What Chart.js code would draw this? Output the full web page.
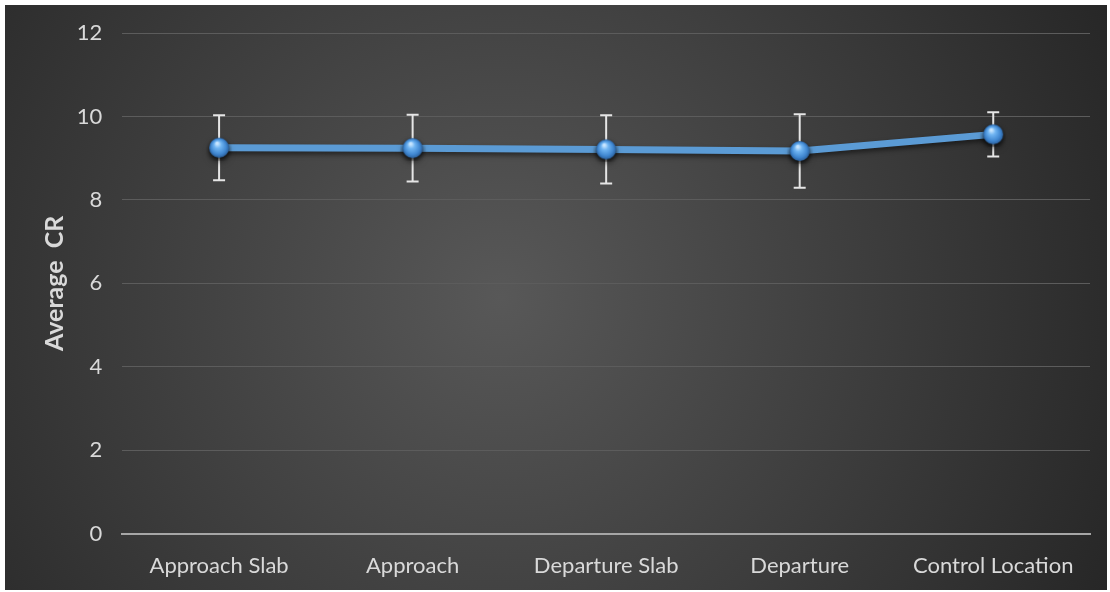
<!DOCTYPE html>
<html>
<head>
<meta charset="utf-8">
<script src="https://cdn.jsdelivr.net/npm/chart.js@4/dist/chart.umd.min.js"></script>
<style>
  html, body { margin: 0; padding: 0; background: #fff; }
  #wrap { position: absolute; left: 5px; top: 5px; width: 1102px; height: 585px; }
</style>
</head>
<body>
<div id="wrap"><canvas id="c"></canvas></div>
<script>
// Valeurs
const categories = ['Approach Slab', 'Approach', 'Departure Slab', 'Departure', 'Control Location'];
const moyennes = [9.25, 9.24, 9.21, 9.17, 9.57];
const ecarts = [0.78, 0.8, 0.82, 0.88, 0.53];
const yTicks = [0, 2, 4, 6, 8, 10, 12];
const titreY = 'Average  CR';

const police = 'Lato, "Open Sans", sans-serif';

// Marqueur "bille" bleue
function bille(r) {
    const c = document.createElement('canvas');
    const t = r * 2 + 6;
    c.width = t; c.height = t;
    const g = c.getContext('2d');
    const m = t / 2;
    g.shadowColor = 'rgba(0,0,0,0.55)';
    g.shadowBlur = 4;
    g.shadowOffsetY = 2;
    const grad = g.createRadialGradient(m - r * 0.2, m - r * 0.45, 1, m, m, r);
    grad.addColorStop(0, '#c9e6ff');
    grad.addColorStop(0.3, '#6fb4f2');
    grad.addColorStop(0.75, '#3f86d0');
    grad.addColorStop(1, '#2b5f9a');
    g.fillStyle = grad;
    g.beginPath();
    g.arc(m, m, r, 0, Math.PI * 2);
    g.fill();
    return c;
}

const fond = {
    id: 'fond',
    beforeDraw(chart) {
        const { ctx, width, height } = chart;
        const grad = ctx.createRadialGradient(width * 0.45, height * 0.5, 0, width * 0.45, height * 0.5, width * 0.62);
        grad.addColorStop(0, '#585858');
        grad.addColorStop(1, '#262626');
        ctx.save();
        ctx.fillStyle = grad;
        ctx.fillRect(0, 0, width, height);
        ctx.restore();
    },
};

const barresErreur = {
    id: 'barresErreur',
    beforeDatasetsDraw(chart) {
        const { ctx, scales: { x, y } } = chart;
        ctx.save();
        ctx.strokeStyle = '#e6e6e6';
        ctx.lineWidth = 2;
        moyennes.forEach((v, i) => {
            const px = x.getPixelForValue(i);
            const haut = y.getPixelForValue(v + ecarts[i]);
            const bas = y.getPixelForValue(v - ecarts[i]);
            ctx.beginPath();
            ctx.moveTo(px, haut); ctx.lineTo(px, bas);
            ctx.moveTo(px - 6, haut); ctx.lineTo(px + 6, haut);
            ctx.moveTo(px - 6, bas); ctx.lineTo(px + 6, bas);
            ctx.stroke();
        });
        ctx.restore();
    },
};

const ombreLigne = {
    id: 'ombreLigne',
    beforeDatasetDraw(chart) {
        const ctx = chart.ctx;
        ctx.save();
        ctx.shadowColor = 'rgba(0,0,0,0.5)';
        ctx.shadowBlur = 5;
        ctx.shadowOffsetY = 3;
    },
    afterDatasetDraw(chart) {
        chart.ctx.restore();
    },
};

// Titre de l'axe Y centré sur la zone de tracé
const titreAxe = {
    id: 'titreAxe',
    afterDraw(chart) {
        const { ctx, chartArea } = chart;
        ctx.save();
        ctx.translate(50, (chartArea.top + chartArea.bottom) / 2);
        ctx.rotate(-Math.PI / 2);
        ctx.fillStyle = '#d9d9d9';
        ctx.font = 'bold 25px ' + police;
        ctx.textAlign = 'center';
        ctx.textBaseline = 'middle';
        ctx.fillText(titreY, 0, 0);
        ctx.restore();
    },
};

new Chart(document.getElementById('c'), {
    type: 'line',
    data: {
        labels: categories,
        datasets: [{
            data: moyennes,
            borderColor: '#5b9bd5',
            borderWidth: 7,
            pointStyle: bille(10),
            pointRadius: 10,
            tension: 0,
        }],
    },
    options: {
        responsive: true,
        maintainAspectRatio: false,
        animation: false,
        layout: { padding: { top: 28, right: 17, bottom: -8, left: 37 } },
        plugins: {
            legend: { display: false },
            tooltip: { enabled: false },
        },
        scales: {
            x: {
                offset: true,
                grid: { display: false, drawTicks: false },
                border: { color: '#a6a6a6', width: 2 },
                ticks: { color: '#d9d9d9', font: { family: police, size: 22 }, padding: 19 },
            },
            y: {
                min: 0,
                max: 12,
                afterBuildTicks(axis) { axis.ticks = yTicks.map((v) => ({ value: v })); },
                afterFit(axis) { axis.paddingTop = 0; },
                grid: { color: '#5c5c5c', lineWidth: 1, drawTicks: false },
                border: { display: false },
                ticks: { color: '#d9d9d9', font: { family: police, size: 22 }, padding: 20 },
                title: {
                    display: true,
                    text: titreY,
                    color: 'rgba(0,0,0,0)',
                    font: { family: police, size: 24, weight: 'bold' },
                    padding: { top: 0, bottom: -14 },
                },
            },
        },
    },
    plugins: [fond, barresErreur, ombreLigne, titreAxe],
});
</script>
</body>
</html>
